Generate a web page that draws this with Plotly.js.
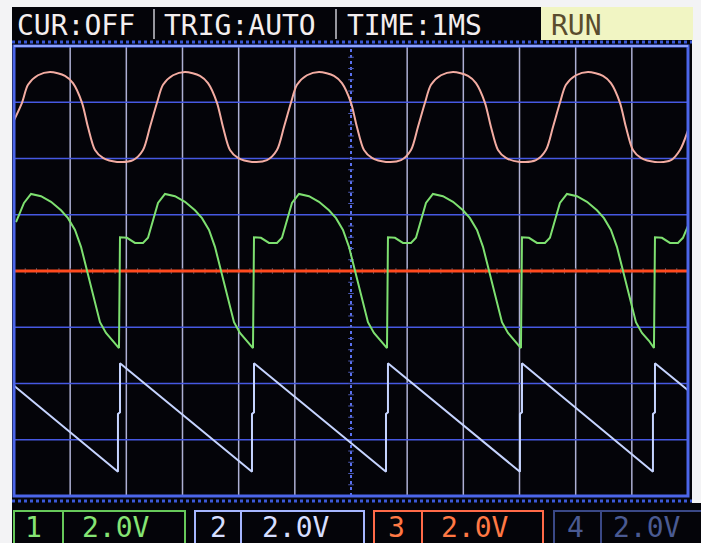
<!DOCTYPE html>
<html><head><meta charset="utf-8">
<script src="https://cdn.plot.ly/plotly-3.0.1.min.js"></script>
<style>html,body{margin:0;padding:0;background:#f3f3f5;overflow:hidden}#chart{width:701px;height:543px}</style>
</head><body><div id="chart"></div><script>
// Time in ms (1 ms/div, 12 div), amplitude in screen divisions (2.0 V/div)
const ch1Time = [0,0.142,0.249,0.427,0.641,0.908,1.050,1.211,1.317,1.442,1.584,1.834,
  2.119,2.297,2.421,2.546,2.653,2.831,3.044,3.311,3.454,3.614,3.721,3.845,3.988,4.237,
  4.504,4.682,4.807,4.931,5.038,5.216,5.430,5.697,5.839,6.000,6.106,6.231,6.373,6.623,
  6.890,7.068,7.192,7.317,7.424,7.602,7.816,8.083,8.225,8.385,8.492,8.617,8.759,9.008,
  9.293,9.471,9.596,9.720,9.827,10.005,10.219,10.486,10.628,10.789,10.895,11.020,11.162,11.412,
  11.697,11.857,12.0];
const ch1Div = [2.68,2.99,3.31,3.48,3.54,3.47,3.34,2.99,2.56,2.15,2.01,1.94,
  1.97,2.15,2.56,2.99,3.31,3.48,3.54,3.47,3.34,2.99,2.56,2.15,2.01,1.94,
  1.97,2.15,2.56,2.99,3.31,3.48,3.54,3.47,3.34,2.99,2.56,2.15,2.01,1.94,
  1.97,2.15,2.56,2.99,3.31,3.48,3.54,3.47,3.34,2.99,2.56,2.15,2.01,1.94,
  1.97,2.15,2.56,2.99,3.31,3.48,3.54,3.47,3.34,2.99,2.56,2.15,2.01,1.94,
  1.97,2.15,2.50];

const ch2Time = [0.036,0.178,0.303,0.481,0.659,0.837,0.961,1.086,1.193,1.282,1.371,1.460,1.531,1.638,1.762,1.869,
  1.887,2.012,2.154,2.297,2.386,2.475,2.564,2.688,2.866,3.044,3.222,3.347,3.472,3.578,3.667,3.756,3.845,3.917,4.023,4.148,4.255,
  4.273,4.397,4.540,4.682,4.771,4.860,4.949,5.074,5.252,5.430,5.608,5.733,5.857,5.964,6.053,6.142,6.231,6.302,6.409,6.534,6.641,
  6.658,6.783,6.925,7.068,7.157,7.246,7.335,7.459,7.637,7.816,7.994,8.118,8.243,8.350,8.439,8.528,8.617,8.688,8.795,8.919,9.026,
  9.044,9.169,9.311,9.453,9.542,9.631,9.720,9.845,10.023,10.201,10.379,10.504,10.628,10.735,10.824,10.913,11.002,11.073,11.180,11.305,11.394,
  11.412,11.536,11.679,11.821,11.910,12.0];
const ch2Div = [0.87,1.21,1.37,1.33,1.23,1.08,0.94,0.73,0.43,0.07,-0.28,-0.64,-0.91,-1.10,-1.24,-1.37,
  0.60,0.59,0.50,0.50,0.59,0.91,1.21,1.37,1.33,1.23,1.08,0.94,0.73,0.43,0.07,-0.28,-0.64,-0.91,-1.10,-1.24,-1.37,
  0.60,0.59,0.50,0.50,0.59,0.91,1.21,1.37,1.33,1.23,1.08,0.94,0.73,0.43,0.07,-0.28,-0.64,-0.91,-1.10,-1.24,-1.37,
  0.60,0.59,0.50,0.50,0.59,0.91,1.21,1.37,1.33,1.23,1.08,0.94,0.73,0.43,0.07,-0.28,-0.64,-0.91,-1.10,-1.24,-1.37,
  0.60,0.59,0.50,0.50,0.59,0.91,1.21,1.37,1.33,1.23,1.08,0.94,0.73,0.43,0.07,-0.28,-0.64,-0.91,-1.10,-1.24,-1.37,
  0.60,0.59,0.50,0.50,0.59,0.80];

const ch3Time = [0,1.851,1.851,1.887,1.887,4.237,4.237,4.273,4.273,6.623,6.623,6.658,6.658,
  9.008,9.008,9.044,9.044,11.376,11.376,11.412,11.412,12.0];
const ch3Div = [-2.04,-3.57,-2.54,-2.51,-1.64,-3.57,-2.54,-2.51,-1.64,-3.57,-2.54,-2.51,-1.64,
  -3.57,-2.54,-2.51,-1.64,-3.57,-2.54,-2.51,-1.64,-2.12];

const ch4Time = [0, 12];
const ch4Div = [0, 0];

const topLabels = ["CUR:OFF", "TRIG:AUTO", "TIME:1MS", "RUN"];
const chanNames = ["1", "2", "3", "4"];
const chanScales = ["2.0V", "2.0V", "2.0V", "2.0V"];

// ---- layout helpers (pixel -> paper) ----
const X0 = 14, X1 = 688, Y0 = 46, Y1 = 496;
const px = v => (v - X0) / (X1 - X0);
const py = v => (Y1 - v) / (Y1 - Y0);
const FONT = "DejaVu Sans Mono, monospace";

const shapes = [];
function prect(x0, y0, x1, y1, fill, line, layer) {
  shapes.push({type:'rect', xref:'paper', yref:'paper', x0:px(x0), x1:px(x1), y0:py(y1), y1:py(y0),
    fillcolor: fill || 'rgba(0,0,0,0)', line: line || {width:0}, layer: layer || 'below'});
}
function pline(x0, y0, x1, y1, line, layer) {
  shapes.push({type:'line', xref:'paper', yref:'paper', x0:px(x0), x1:px(x1), y0:py(y0), y1:py(y1),
    line: line, layer: layer || 'above'});
}
// screen background
prect(12, 7, 692, 543, '#040409');
prect(12, 503, 701, 543, '#040409');
// RUN box
prect(541, 7, 693, 40, '#f1f5c3');
// dotted separators
pline(12, 42, 692, 42, {color:'#3a58d8', width:3, dash:'dot'});
pline(12, 501, 692, 501, {color:'#3a58d8', width:3, dash:'dot'});
// top bar dividers
pline(154, 9, 154, 39, {color:'#c8c8d0', width:1.5});
pline(336, 9, 336, 39, {color:'#c8c8d0', width:1.5});

// grid
for (let i = 1; i < 12; i++) {
  if (i === 6) continue;
  shapes.push({type:'line', xref:'x', yref:'y', x0:i, x1:i, y0:-4, y1:4,
    line:{color:'#aeb0d4', width:1.5}, layer:'below'});
}
for (let j = -3; j <= 3; j++) {
  shapes.push({type:'line', xref:'x', yref:'y', x0:0, x1:12, y0:j, y1:j,
    line:{color:'#4658e2', width:1.6}, layer:'below'});
}
shapes.push({type:'line', xref:'x', yref:'y', x0:6, x1:6, y0:-4, y1:4,
  line:{color:'#5a70f0', width:2, dash:'dot'}, layer:'below'});
// minor ticks on centre lines (faint)
for (let k = 1; k < 60; k++) {
  const t = k * 0.2;
  shapes.push({type:'line', xref:'x', yref:'y', x0:t, x1:t, y0:-0.05, y1:0.05,
    line:{color:'#5c5c70', width:1}, layer:'below'});
}
for (let k = 1; k < 40; k++) {
  const v = -4 + k * 0.2;
  shapes.push({type:'line', xref:'x', yref:'y', x0:5.95, x1:6.05, y0:v, y1:v,
    line:{color:'#4a58b0', width:1}, layer:'below'});
}
// frame
shapes.push({type:'rect', xref:'paper', yref:'paper', x0:0, x1:1, y0:0, y1:1,
  line:{color:'#4c66ea', width:3}, layer:'above'});
pline(X0, Y0, X1, Y0, {color:'#8ea2ff', width:2});

// bottom channel boxes
const boxes = [
  {x0:14, x1:185, div:63, col:'#66c85a', txt:'#86e474', c1:33, c2:116},
  {x0:195, x1:364, div:241, col:'#a6b6ff', txt:'#d6deff', c1:218, c2:296},
  {x0:374, x1:543, div:422, col:'#ff6a48', txt:'#ff7844', c1:396, c2:475},
  {x0:554, x1:708, div:601, col:'#3a4886', txt:'#4a5a92', c1:575, c2:647}
];
boxes.forEach(b => {
  prect(b.x0, 511, b.x1, 548, null, {color:b.col, width:2}, 'above');
  pline(b.div, 511, b.div, 543, {color:b.col, width:2});
});

const annotations = [];
function ann(text, x, y, color, anchor) {
  annotations.push({text:text, xref:'paper', yref:'paper', x:px(x), y:py(y), xanchor:anchor || 'left',
    yanchor:'middle', showarrow:false, font:{family:FONT, size:28, color:color}});
}
ann(topLabels[0], 15, 25, '#f4eeee');
ann(topLabels[1], 162, 25, '#f4eeee');
ann(topLabels[2], 345, 25, '#f4eeee');
ann(topLabels[3], 549, 25, '#5a4c2e');
boxes.forEach((b, i) => {
  ann(chanNames[i], b.c1, 527, b.txt, 'center');
  ann(chanScales[i], b.c2, 527, b.txt, 'center');
});

const traces = [
  {x: ch4Time, y: ch4Div, mode:'lines', line:{color:'#ff4a1e', width:3}, hoverinfo:'skip'},
  {x: ch1Time, y: ch1Div, mode:'lines', line:{color:'#f3aca2', width:2, shape:'spline', smoothing:0.8}, hoverinfo:'skip'},
  {x: ch2Time, y: ch2Div, mode:'lines', line:{color:'#7ee070', width:2}, hoverinfo:'skip'},
  {x: ch3Time, y: ch3Div, mode:'lines', line:{color:'#c6d4ff', width:2}, hoverinfo:'skip'}
];

const layout = {
  width:701, height:543,
  margin:{l:X0, r:701 - X1, t:Y0, b:543 - Y1, pad:0},
  paper_bgcolor:'#f3f3f5', plot_bgcolor:'#040409',
  showlegend:false,
  xaxis:{range:[0,12], showgrid:false, zeroline:false, showticklabels:false, ticks:'', showline:false, fixedrange:true},
  yaxis:{range:[-4,4], showgrid:false, zeroline:false, showticklabels:false, ticks:'', showline:false, fixedrange:true},
  shapes: shapes,
  annotations: annotations
};
Plotly.newPlot('chart', traces, layout, {displayModeBar:false, staticPlot:true});
</script></body></html>
